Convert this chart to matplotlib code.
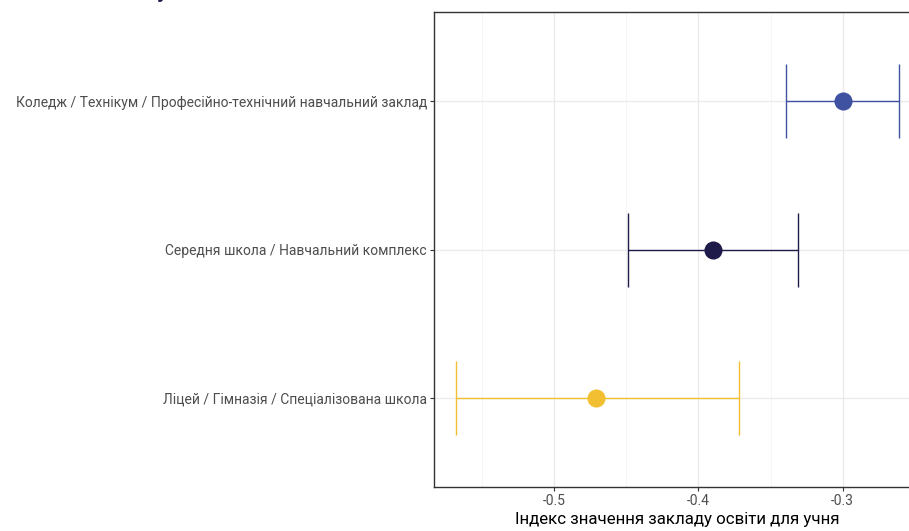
import matplotlib.pyplot as plt
from matplotlib.ticker import MultipleLocator

plt.rcParams["font.family"] = ["Roboto", "DejaVu Sans"]

categories = [
    "Ліцей / Гімназія / Спеціалізована школа",
    "Середня школа / Навчальний комплекс",
    "Коледж / Технікум / Професійно-технічний навчальний заклад",
]
estimates = [-0.471, -0.390, -0.300]
lower = [-0.568, -0.449, -0.339]
upper = [-0.372, -0.331, -0.261]
colors = ["#F2BF33", "#1E1B4B", "#3F52A1"]
x_label = "Індекс значення закладу освіти для учня"

fig = plt.figure(figsize=(9.09, 5.31), dpi=100)
ax = fig.add_axes([434 / 909, 44 / 531, 487 / 909, 475 / 531])

for i, (est, lo, hi, c) in enumerate(zip(estimates, lower, upper, colors)):
    ax.errorbar(est, i, xerr=[[est - lo], [hi - est]], fmt="none",
                ecolor=c, elinewidth=1.0, capsize=26.5, capthick=1.0, zorder=3)
    ax.scatter(est, i, s=170, color=c, zorder=4, linewidths=0)

span = max(upper) - min(lower)
ax.set_xlim(min(lower) - 0.05 * span, max(upper) + 0.05 * span)
ax.set_ylim(-0.6, 2.6)
ax.set_yticks(range(len(categories)))
ax.set_yticklabels(categories)
ax.xaxis.set_major_locator(MultipleLocator(0.1))
ax.xaxis.set_minor_locator(MultipleLocator(0.05))
ax.xaxis.set_major_formatter(lambda v, p: f"{v:.1f}")

ax.grid(True, which="major", color="#EBEBEB", linewidth=1.0, zorder=0)
ax.grid(True, which="minor", axis="x", color="#F4F4F4", linewidth=0.6, zorder=0)
ax.set_axisbelow(True)
ax.tick_params(axis="both", which="major", colors="#333333", length=3,
               labelcolor="#4D4D4D", labelsize=10, pad=2)
ax.tick_params(axis="x", which="minor", length=0)
for s in ax.spines.values():
    s.set_color("#333333")
    s.set_linewidth(1.0)

ax.set_xlabel(x_label, fontsize=12.2, color="black", labelpad=3)

fig.text(163 / 909, 1 + 3 / 531, "у", fontsize=16, fontweight="bold",
         color="#1E1B4B", ha="center", va="baseline")

fig.savefig("out.png", dpi=100)
